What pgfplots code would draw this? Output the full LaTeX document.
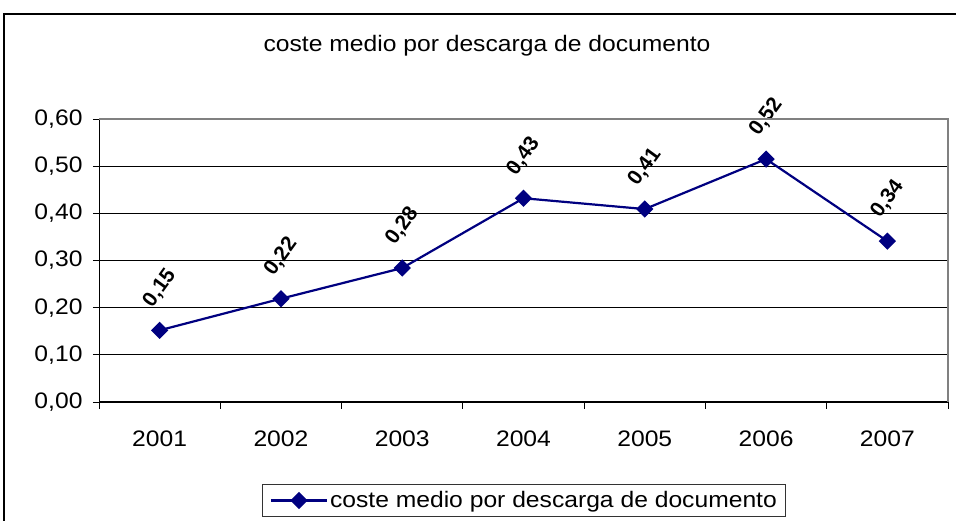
\documentclass[border=0pt]{standalone}
\usepackage{pgfplots}
\pgfplotsset{compat=1.18}
\usepackage{fontspec}
\setmainfont{Liberation Sans}[FakeStretch=1.1]
\newfontfamily\labelfont{Liberation Sans}
\definecolor{navy}{RGB}{0,0,128}
\definecolor{pgray}{RGB}{128,128,128}
\newcommand{\mainsize}{\fontsize{22.5}{27}\selectfont}
\begin{document}
\begin{tikzpicture}[x=1bp,y=1bp]
\useasboundingbox (0,0) rectangle (956,521);
\fill[white] (0,0) rectangle (956,521);
\draw[line width=1.3bp] (4,-10) rectangle (970,507);
\node[font=\mainsize] at (487,475) {coste medio por descarga de documento};
\begin{axis}[
  at={(99bp,119bp)}, anchor=south west,
  width=849bp, height=283bp, scale only axis,
  clip=false,
  xmin=-0.5, xmax=6.5, ymin=0, ymax=0.6,
  axis x line*=bottom, axis y line*=left,
  axis line style={black, line width=1bp, -},
  xtick={0,1,2,3,4,5,6},
  xticklabels={2001,2002,2003,2004,2005,2006,2007},
  major x tick style={draw=none},
  minor xtick={-0.5,0.5,1.5,2.5,3.5,4.5,5.5,6.5},
  ytick={0,0.1,0.2,0.3,0.4,0.5,0.6},
  tick align=outside,
  major tick length=6bp, minor tick length=7bp,
  tick style={black, line width=0.8bp},
  ymajorgrids,
  grid style={black, line width=0.8bp},
  ticklabel style={font=\mainsize},
  xticklabel style={yshift=-19bp},
  yticklabel style={xshift=-7bp, /pgf/number format/fixed, /pgf/number format/fixed zerofill,
    /pgf/number format/precision=2, /pgf/number format/use comma,
    /pgf/number format/assume math mode=true},
  legend style={at={(0.501,-0.348)}, anchor=center, draw=black!80, line width=0.8bp,
    font=\mainsize, inner xsep=7bp, inner ysep=5.5bp},
  legend image code/.code={\draw[mark repeat=2,mark phase=2,#1] plot coordinates {(0bp,0bp) (28bp,0bp) (56bp,0bp)};},
]
\addplot[navy, line width=2.2bp, mark=square*, mark size=5bp,
  mark options={rotate=45, solid, fill=navy},
  nodes near coords={\pgfmathprintnumber[fixed,fixed zerofill,precision=2,use comma,assume math mode=true]{\pgfplotspointmeta}},
  every node near coord/.append style={text=black, font=\labelfont\bfseries\fontsize{21}{25}\selectfont, anchor=center, yshift=42bp, rotate=54},
] coordinates {
  (0,0.152) (1,0.219) (2,0.284) (3,0.432) (4,0.409) (5,0.515) (6,0.341)
};
\addlegendentry{coste medio por descarga de documento}
\end{axis}
\draw[pgray, line width=1.6bp] (99,402) -- (948,402) -- (948,119);
\end{tikzpicture}
\end{document}
